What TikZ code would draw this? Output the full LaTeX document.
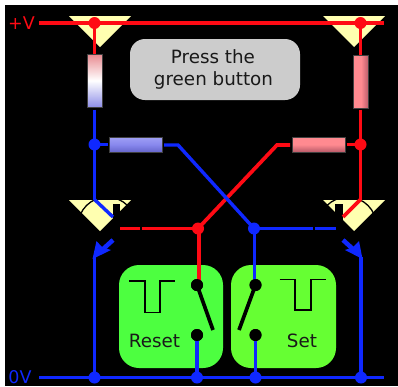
\documentclass[tikz,border=0pt]{standalone}
\usepackage{fontspec}
\setmainfont{DejaVu Sans}
\definecolor{wred}{HTML}{FF0A14}
\definecolor{wblue}{HTML}{0F28FF}
\definecolor{tyel}{HTML}{FFFFB0}
\definecolor{rtop}{HTML}{E88A90}
\definecolor{rbot}{HTML}{8F8FE8}
\definecolor{pink}{HTML}{FF8A90}
\definecolor{pinkd}{HTML}{B85A68}
\definecolor{bluel}{HTML}{A0A0F4}
\definecolor{bluem}{HTML}{8888EE}
\definecolor{blued}{HTML}{6666CC}
\tikzset{
  redw/.style={draw=wred,line width=3.7pt},
  bluew/.style={draw=wblue,line width=3.4pt},
  rdot/.style={circle,fill=wred,inner sep=0pt,minimum size=12pt},
  bdot/.style={circle,fill=wblue,inner sep=0pt,minimum size=12pt},
  kdot/.style={circle,fill=black,inner sep=0pt,minimum size=12pt},
  tri/.style={fill=tyel},
  arm/.style={draw=black,line width=3.7pt},
  pulse/.style={draw=black,line width=1.2pt},
  resbox/.style={draw=black!50!gray,line width=0.6pt},
  greenbox/.style={rounded corners=20pt},
  lab/.style={font=\fontsize{18.3}{21}\selectfont,text=black!90,inner sep=0pt},
  rail/.style={font=\fontsize{17.5}{20}\selectfont,inner sep=0pt}
}
\begin{document}
\begin{tikzpicture}[x=1pt,y=-1pt]
\useasboundingbox (0,0) rectangle (398,386);
\fill[white] (0,0) rectangle (398,386);
\fill[black] (5,5) rectangle (398,386);
% named points
\coordinate (vl) at (39,23); \coordinate (vr) at (384,23);
\coordinate (gl) at (39,377.5); \coordinate (gr) at (384,377.5);
\coordinate (cl) at (94.5,199.5); \coordinate (cr) at (360.5,199.5);
\coordinate (el) at (94.5,257); \coordinate (er) at (361,257);
\coordinate (cli) at (113,217); \coordinate (cri) at (343,217);
\coordinate (bend1) at (178,145); \coordinate (bend2) at (277,145);
% supply triangles
\fill[tri] (69,16) -- (131,16) -- (100,47) -- cycle;
\fill[tri] (323,16) -- (385,16) -- (354,47) -- cycle;
% transistor triangles
\fill[tri] (69,200) -- (131,200) -- (100,231) -- cycle;
\fill[tri] (323,200) -- (385,200) -- (354,231) -- cycle;
\draw[black,line width=1.3pt] (107,226) circle (29);
\draw[black,line width=1.3pt] (347.5,226) circle (29);
\fill[black] (113,203.5) rectangle (120,235);
\fill[black] (335,203.5) rectangle (343,235);
% green buttons
\fill[greenbox,fill={rgb,255:red,77;green,255;blue,64}] (119,265) rectangle (223,368);
\fill[greenbox,fill={rgb,255:red,102;green,255;blue,51}] (231,265) rectangle (336,368);
% grey notice
\node[fill=black!20,rounded corners=15pt,minimum width=170pt,minimum height=61pt,inner sep=0pt] (msg) at (215,69.5) {};
\node[lab] (msg1) at (213,57) {Press the};
\node[lab] (msg2) at (213.5,80) {green button};
% resistors
\node[resbox,minimum width=15.5pt,minimum height=53pt,inner sep=0pt,top color=rtop,bottom color=rbot,middle color=white] (r1) at (95,80.5) {};
\node[resbox,minimum width=15.5pt,minimum height=53pt,inner sep=0pt,left color=pink,right color=pinkd,middle color=pink] (r4) at (361,81.5) {};
\node[resbox,minimum width=53pt,minimum height=15pt,inner sep=0pt,top color=bluel,bottom color=blued,middle color=bluem] (r2) at (135.5,144.5) {};
\node[resbox,minimum width=53pt,minimum height=15pt,inner sep=0pt,top color=pink,bottom color=pinkd,middle color=pink] (r3) at (318.5,144.5) {};
% dots
\node[rdot] (dv1) at (94.5,23) {};
\node[rdot] (dv2) at (360.5,23) {};
\node[bdot] (db1) at (94.5,144.5) {};
\node[rdot] (dr1) at (360.5,144.5) {};
\node[rdot] (dm1) at (198,228.5) {};
\node[bdot] (dm2) at (254,228.5) {};
\node[bdot] (g1) at (94.5,377.5) {};
\node[bdot] (g2) at (197,377.5) {};
\node[bdot] (g3) at (255.5,377.5) {};
\node[bdot] (g4) at (361,377.5) {};
% contacts
\node[kdot] (s1) at (197,285) {};
\node[kdot] (s2) at (197,335) {};
\node[kdot] (s3) at (255.5,285) {};
\node[kdot] (s4) at (255.5,335) {};
% base stubs
\coordinate (brs) at (120,228.5); \coordinate (brm) at (140,228.5); \coordinate (brn) at (142,228.5);
\coordinate (bbs) at (336,228.5); \coordinate (bbm) at (315,228.5); \coordinate (bbn) at (313,228.5);
\coordinate (r2o) at (164,145); \coordinate (r3o) at (290,145); \coordinate (r3i) at (346.5,144.5);
\coordinate (r2i) at (107.5,144.5);
\coordinate (s1t) at (198.7,283);
\coordinate (dmx) at (198.7,228.5);
\coordinate (dmb) at (254.5,228.5);
\coordinate (s3t) at (254.5,283);
% wires: red
\begin{scope}[redw]
\draw (vl) -- (vr);
\draw (dv1.center) -- (94.5,54);
\draw (dv2.center) -- (360.5,55);
\draw (360.5,109.5) -- (cr);
\draw (r3i) -- (dr1.center);
\draw (r3o) -- (bend2) -- (dm1.center);
\draw (brs) -- (brm);
\draw (brn) -- (dm1.center);
\draw (dmx) -- (s1t);
\draw (cr) -- (cri);
\end{scope}
% wires: blue
\begin{scope}[bluew]
\draw (gl) -- (gr);
\draw (94.5,109.5) -- (cl);
\draw (db1.center) -- (r2i);
\draw (r2o) -- (bend1) -- (dm2.center);
\draw (bbs) -- (bbm);
\draw (bbn) -- (dm2.center);
\draw (dmb) -- (s3t);
\draw (s4.center) -- (g3.center);
\draw (s2.center) -- (g2.center);
\draw (el) -- (g1.center);
\draw (er) -- (g4.center);
\draw (cl) -- (cli);
\draw[line width=4.5pt] (113,240) -- (102,250);
\draw[line width=4.5pt] (343,240) -- (354,250);
\end{scope}
\fill[wblue] (92.5,259) -- (96.5,241) -- (102,247) -- (111,250) -- cycle;
\fill[wblue] (362.5,259) -- (359,241) -- (353,247) -- (345,250) -- cycle;
% contacts again on top of the wires
\fill[black] (s1) circle (6); \fill[black] (s2) circle (6);
\fill[black] (s3) circle (6); \fill[black] (s4) circle (6);
% switch arms
\coordinate (a1) at (213,330); \coordinate (a2) at (239,330);
\draw[arm] (s1.center) -- (a1);
\draw[arm] (s3.center) -- (a2);
% pulses
\draw[pulse] (129,281) -- (145,281) -- (145,312.5) -- (160,312.5) -- (160,281) -- (175,281);
\draw[pulse] (279.5,279.5) -- (295,279.5) -- (295,310) -- (311,310) -- (311,279.5) -- (326,279.5);
% labels
\node[lab] (tr) at (154.5,341) {Reset};
\node[lab] (ts) at (302,341) {Set};
\node[rail,text=wred] (tv) at (21.5,23) {+V};
\node[rail,text=wblue] (t0) at (20,377) {0V};
\end{tikzpicture}
\end{document}
